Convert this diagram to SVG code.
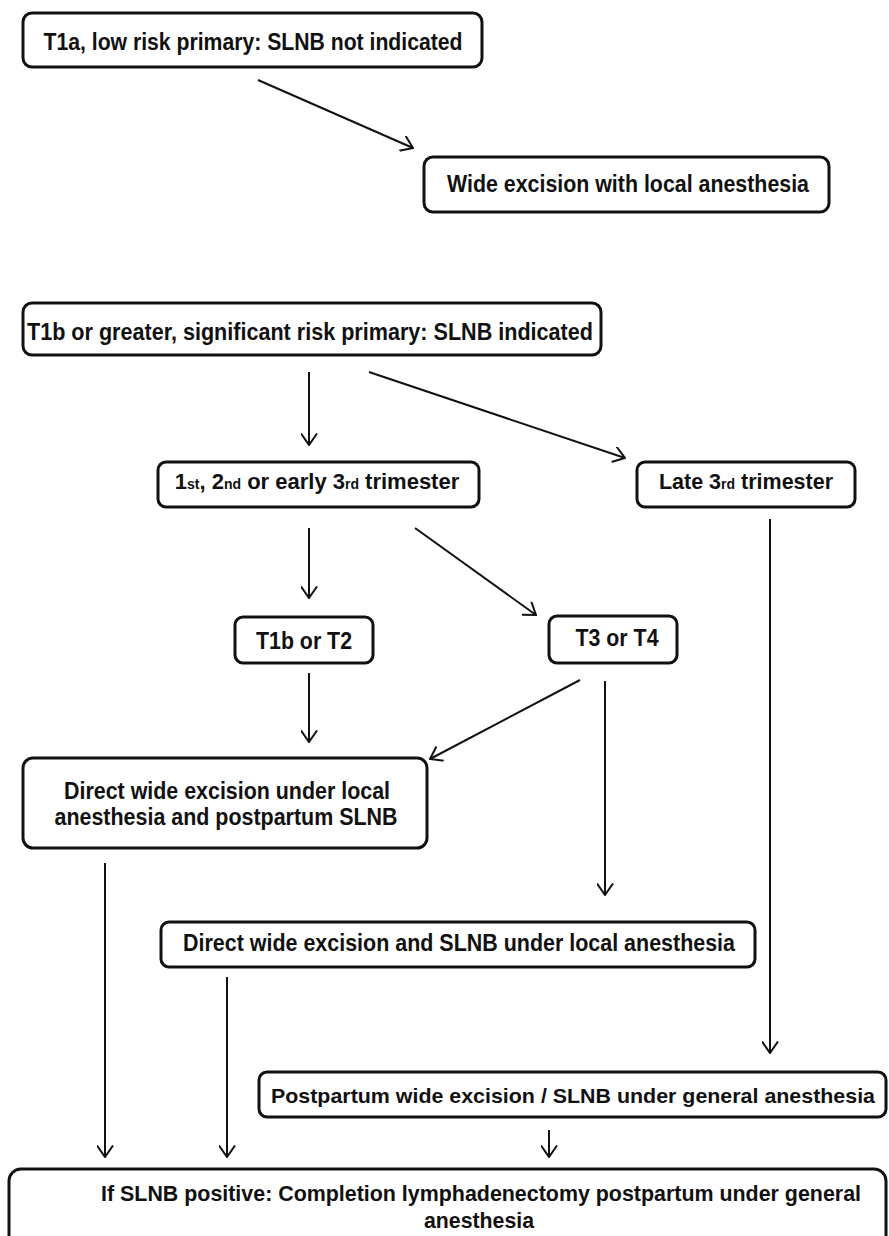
<svg xmlns="http://www.w3.org/2000/svg" width="889" height="1236" viewBox="0 0 889 1236">
<style>
.box{fill:#fff;stroke:#111;stroke-width:3}
.t{font-family:"Liberation Sans",Arial,sans-serif;font-weight:bold;font-size:23px;fill:#111;text-anchor:middle}
.m{font-size:22px}
.n{font-size:21px}
.s{font-size:14px}
.c{stroke:#111;stroke-width:2;fill:none;marker-end:url(#ah)}
</style>
<defs>
<marker id="ah" markerUnits="userSpaceOnUse" viewBox="0 0 13 17" markerWidth="13" markerHeight="17" refX="12" refY="8.5" orient="auto">
<path d="M0.5,0.5 L12,8.5 L0.5,16.5" fill="none" stroke="#111" stroke-width="2"/>
</marker>
</defs>
<rect width="889" height="1236" fill="#fff"/>
<g id="connectors">
<line class="c" x1="258" y1="80" x2="413" y2="148"/>
<line class="c" x1="309" y1="372" x2="309" y2="445"/>
<line class="c" x1="369" y1="372" x2="625" y2="458"/>
<line class="c" x1="309" y1="528" x2="309" y2="598"/>
<line class="c" x1="415" y1="528" x2="536" y2="615"/>
<line class="c" x1="309" y1="673" x2="309" y2="742"/>
<line class="c" x1="580" y1="680" x2="430" y2="759"/>
<line class="c" x1="605" y1="681" x2="605" y2="895"/>
<line class="c" x1="770" y1="519" x2="770" y2="1053"/>
<line class="c" x1="105" y1="863" x2="105" y2="1157"/>
<line class="c" x1="227" y1="977" x2="227" y2="1157"/>
<line class="c" x1="549" y1="1130" x2="549" y2="1157"/>
</g>
<g id="nodeA">
<rect class="box" x="23" y="13" width="459" height="54" rx="9"/>
<text class="t" x="253" y="50" textLength="419" lengthAdjust="spacingAndGlyphs">T1a, low risk primary: SLNB not indicated</text>
</g>
<g id="nodeB">
<rect class="box" x="424" y="157" width="405" height="55" rx="9"/>
<text class="t" x="628" y="192" textLength="362" lengthAdjust="spacingAndGlyphs">Wide excision with local anesthesia</text>
</g>
<g id="nodeC">
<rect class="box" x="23" y="303" width="578" height="52" rx="9"/>
<text class="t" x="310" y="340" textLength="566" lengthAdjust="spacingAndGlyphs">T1b or greater, significant risk primary: SLNB indicated</text>
</g>
<g id="nodeD">
<rect class="box" x="158" y="462" width="321" height="45" rx="8"/>
<text class="t m" x="317" y="489">1<tspan class="s">st</tspan>, 2<tspan class="s">nd</tspan> or early 3<tspan class="s">rd</tspan> trimester</text>
</g>
<g id="nodeE">
<rect class="box" x="637" y="462" width="218" height="45" rx="8"/>
<text class="t" x="746" y="489" style="font-size:21.5px">Late 3<tspan class="s">rd</tspan> trimester</text>
</g>
<g id="nodeF">
<rect class="box" x="235" y="617" width="138" height="46" rx="8"/>
<text class="t" x="304" y="649" textLength="96" lengthAdjust="spacingAndGlyphs">T1b or T2</text>
</g>
<g id="nodeG">
<rect class="box" x="549" y="616" width="128" height="47" rx="8"/>
<text class="t" x="617" y="646" textLength="83" lengthAdjust="spacingAndGlyphs">T3 or T4</text>
</g>
<g id="nodeH">
<rect class="box" x="23" y="758" width="404" height="90" rx="10"/>
<text class="t" x="227" y="799" textLength="326" lengthAdjust="spacingAndGlyphs">Direct wide excision under local</text>
<text class="t" x="226" y="825" textLength="343" lengthAdjust="spacingAndGlyphs">anesthesia and postpartum SLNB</text>
</g>
<g id="nodeI">
<rect class="box" x="161" y="922" width="594" height="45" rx="8"/>
<text class="t" x="459" y="951" textLength="552" lengthAdjust="spacingAndGlyphs">Direct wide excision and SLNB under local anesthesia</text>
</g>
<g id="nodeJ">
<rect class="box" x="259" y="1072" width="627" height="45" rx="8"/>
<text class="t n" x="573" y="1103" textLength="604" lengthAdjust="spacingAndGlyphs">Postpartum wide excision / SLNB under general anesthesia</text>
</g>
<g id="nodeK">
<rect class="box" x="9" y="1169" width="877" height="90" rx="12"/>
<text class="t m" x="481" y="1201" textLength="760" lengthAdjust="spacingAndGlyphs">If SLNB positive: Completion lymphadenectomy postpartum under general</text>
<text class="t m" x="479" y="1228" textLength="110" lengthAdjust="spacingAndGlyphs">anesthesia</text>
</g>
</svg>
